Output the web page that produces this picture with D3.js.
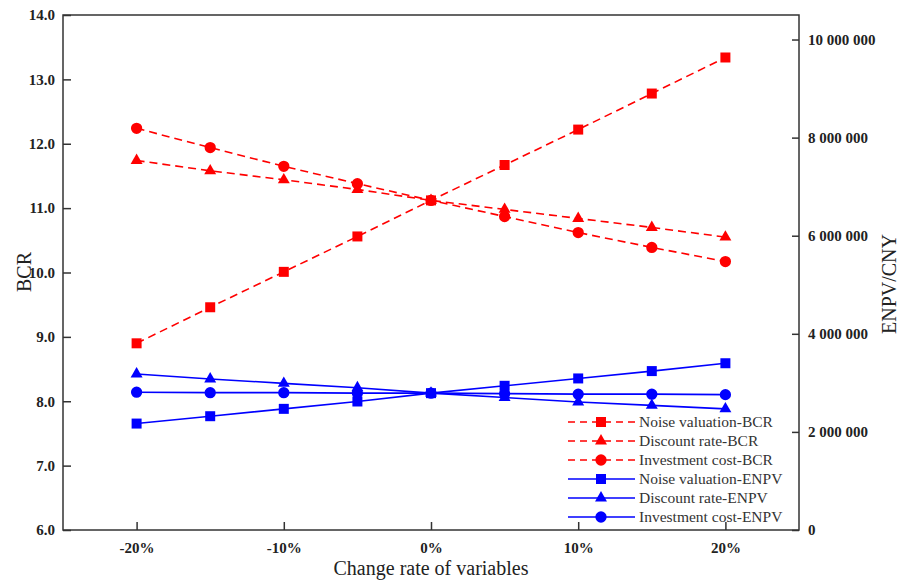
<!DOCTYPE html>
<html>
<head>
<meta charset="utf-8">
<script src="https://cdn.jsdelivr.net/npm/d3@7"></script>
<style>
  body { margin: 0; background: #fff; }
  svg { font-family: "Liberation Serif", "Times New Roman", serif; }
  .tick_lab { font-size: 15px; font-weight: bold; fill: #222; }
  .axis_title { font-size: 20px; fill: #222; }
  .legend_text { font-size: 15.5px; fill: #333; }
</style>
</head>
<body>
<svg id="chart" width="899" height="583"></svg>
<script>
// change rate of variables (%)
var change_rate = [-20, -15, -10, -5, 0, 5, 10, 15, 20];
var x_tick_vals = [-20, -10, 0, 10, 20];
var bcr_ticks = [6, 7, 8, 9, 10, 11, 12, 13, 14];
var enpv_ticks = [0, 2000000, 4000000, 6000000, 8000000, 10000000];

// BCR (left axis)
var noise_bcr    = [8.90, 9.46, 10.01, 10.56, 11.12, 11.67, 12.22, 12.78, 13.34];
var discount_bcr = [11.74, 11.58, 11.44, 11.29, 11.12, 10.98, 10.84, 10.70, 10.55];
var invest_bcr   = [12.24, 11.94, 11.65, 11.38, 11.12, 10.87, 10.62, 10.39, 10.17];

// ENPV, CNY (right axis)
var noise_enpv    = [2170000, 2320000, 2470000, 2620000, 2790000, 2940000, 3090000, 3240000, 3400000];
var discount_enpv = [3180000, 3080000, 2990000, 2900000, 2790000, 2700000, 2610000, 2540000, 2470000];
var invest_enpv   = [2810000, 2800000, 2800000, 2790000, 2790000, 2780000, 2770000, 2770000, 2760000];

var series_names = ["Noise valuation-BCR", "Discount rate-BCR", "Investment cost-BCR",
                    "Noise valuation-ENPV", "Discount rate-ENPV", "Investment cost-ENPV"];

var color1 = "#ff0000", color2 = "#0000ff", axis_col = "#333";

var margin = {top: 15, right: 100, bottom: 53, left: 63};
var w_svg = 899, h_svg = 583;
var x0 = margin.left, x1 = w_svg - margin.right, y0 = margin.top, y1 = h_svg - margin.bottom;

var svg = d3.select("#chart");

var x = d3.scaleLinear().domain([-25, 25]).range([x0, x1]);
var yL = d3.scaleLinear().domain([6, 14]).range([y1, y0]);
var yR = d3.scaleLinear().domain([0, 10500000]).range([y1, y0]);

var series = [
  {name: series_names[0], vals: noise_bcr,    scale: yL, color: color1, dash: "8,5", shape: d3.symbolSquare,   size: 100},
  {name: series_names[1], vals: discount_bcr, scale: yL, color: color1, dash: "8,5", shape: d3.symbolTriangle, size: 62},
  {name: series_names[2], vals: invest_bcr,   scale: yL, color: color1, dash: "8,5", shape: d3.symbolCircle,   size: 100},
  {name: series_names[3], vals: noise_enpv,    scale: yR, color: color2, dash: null, shape: d3.symbolSquare,   size: 100},
  {name: series_names[4], vals: discount_enpv, scale: yR, color: color2, dash: null, shape: d3.symbolTriangle, size: 62},
  {name: series_names[5], vals: invest_enpv,   scale: yR, color: color2, dash: null, shape: d3.symbolCircle,   size: 100}
];

// axes (ticks point inward)
var axisLeft = d3.axisLeft(yL).tickValues(bcr_ticks).tickSize(-8).tickPadding(8).tickFormat(d3.format(".1f"));
var axisRight = d3.axisRight(yR).tickValues(enpv_ticks).tickSize(-7).tickPadding(9)
                  .tickFormat(function(d) { return d3.format(",")(d).replace(/,/g, " "); });
var axisBottom = d3.axisBottom(x).tickValues(x_tick_vals).tickSize(-8).tickPadding(12)
                   .tickFormat(function(d) { return d + "%"; });

function styleAxis(g) {
  g.attr("font-family", null).attr("font-size", null);
  g.select(".domain").remove();
  g.selectAll(".tick line").attr("stroke", axis_col).attr("stroke-width", 1.5);
  g.selectAll(".tick text").attr("class", "tick_lab");
}

svg.append("g").attr("transform", "translate(" + x0 + ",0)").call(axisLeft).call(styleAxis);
svg.append("g").attr("transform", "translate(" + x1 + ",0)").call(axisRight).call(styleAxis);
svg.append("g").attr("transform", "translate(0," + y1 + ")").call(axisBottom).call(styleAxis);

// frame
svg.append("rect")
   .attr("x", x0).attr("y", y0)
   .attr("width", x1 - x0).attr("height", y1 - y0)
   .attr("fill", "none").attr("stroke", axis_col).attr("stroke-width", 1.5);

// lines + markers
series.forEach(function(s) {
  var line = d3.line()
               .x(function(d, i) { return x(change_rate[i]); })
               .y(function(d) { return s.scale(d); });
  svg.append("path")
     .datum(s.vals)
     .attr("d", line)
     .attr("fill", "none")
     .attr("stroke", s.color)
     .attr("stroke-width", 1.6)
     .attr("stroke-dasharray", s.dash);
  svg.append("g").selectAll("path")
     .data(s.vals)
     .enter().append("path")
     .attr("transform", function(d, i) {
       return "translate(" + x(change_rate[i]) + "," + s.scale(d) + ")";
     })
     .attr("d", d3.symbol().type(s.shape).size(s.size))
     .attr("fill", s.color);
});

// axis titles
svg.append("text")
   .attr("class", "axis_title")
   .attr("transform", "translate(31,272) rotate(-90)")
   .attr("text-anchor", "middle")
   .text("BCR");
svg.append("text")
   .attr("class", "axis_title")
   .attr("transform", "translate(896,284) rotate(-90)")
   .attr("text-anchor", "middle")
   .text("ENPV/CNY");
svg.append("text")
   .attr("class", "axis_title")
   .attr("x", (x0 + x1) / 2)
   .attr("y", 575)
   .attr("text-anchor", "middle")
   .text("Change rate of variables");

// legend
var leg_x = 568, leg_y = 422, leg_step = 19;
var legend = svg.append("g").selectAll("g")
   .data(series)
   .enter().append("g")
   .attr("transform", function(d, i) { return "translate(" + leg_x + "," + (leg_y + i * leg_step) + ")"; });
legend.append("line")
      .attr("x1", 0).attr("x2", 67)
      .attr("stroke", function(d) { return d.color; })
      .attr("stroke-width", 1.6)
      .attr("stroke-dasharray", function(d) { return d.dash ? "7,5" : null; });
legend.append("path")
      .attr("transform", "translate(33,0)")
      .attr("d", function(d) { return d3.symbol().type(d.shape).size(d.size)(); })
      .attr("fill", function(d) { return d.color; });
legend.append("text")
      .attr("class", "legend_text")
      .attr("x", 71)
      .attr("dy", "0.35em")
      .text(function(d) { return d.name; });
</script>
</body>
</html>
